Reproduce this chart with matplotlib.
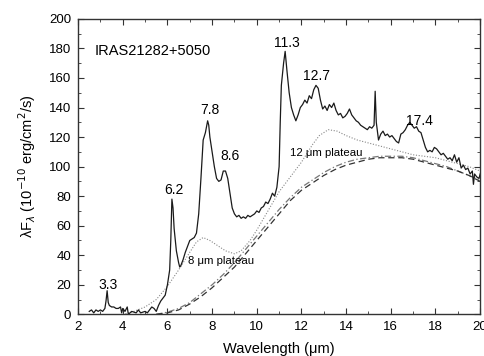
import matplotlib
matplotlib.use("Agg")
import matplotlib.pyplot as plt
from matplotlib.ticker import MultipleLocator

plt.rcParams['font.family'] = ['Liberation Sans', 'DejaVu Sans']

wave = [2.5, 2.6, 2.7, 2.8, 2.9, 3.0, 3.1, 3.2, 3.25, 3.3, 3.35, 3.4, 3.5, 3.6, 3.7,
        3.8, 3.9, 3.95, 4.0, 4.1, 4.2, 4.25, 4.4, 4.6, 4.7, 4.8, 5.0, 5.1, 5.2, 5.3,
        5.4, 5.5, 5.6, 5.7, 5.8, 5.9, 6.0, 6.1, 6.15, 6.2, 6.25, 6.3, 6.4, 6.5, 6.55,
        6.6, 6.7, 6.8, 6.9, 7.0, 7.1, 7.2, 7.3, 7.4, 7.5, 7.6, 7.7, 7.8, 7.85, 7.9,
        8.0, 8.1, 8.2, 8.3, 8.4, 8.5, 8.6, 8.7, 8.8, 8.9, 9.0, 9.1, 9.2, 9.3, 9.4,
        9.5, 9.6, 9.7, 9.8, 9.9, 10.0, 10.1, 10.2, 10.3, 10.4, 10.5, 10.6, 10.7, 10.8,
        10.9, 11.0, 11.05, 11.1, 11.2, 11.27, 11.35, 11.45, 11.55, 11.65, 11.75, 11.85,
        11.95, 12.05, 12.15, 12.25, 12.35, 12.45, 12.55, 12.65, 12.75, 12.85, 12.95,
        13.05, 13.15, 13.25, 13.35, 13.45, 13.55, 13.65, 13.75, 13.85, 13.95, 14.05,
        14.15, 14.25, 14.35, 14.45, 14.55, 14.65, 14.75, 14.85, 14.95, 15.05, 15.15,
        15.25, 15.3, 15.35, 15.45, 15.55, 15.65, 15.75, 15.85, 15.95, 16.05, 16.15,
        16.25, 16.35, 16.45, 16.55, 16.65, 16.75, 16.85, 16.95, 17.05, 17.15, 17.25,
        17.35, 17.45, 17.55, 17.65, 17.75, 17.85, 17.95, 18.05, 18.15, 18.25, 18.35,
        18.45, 18.55, 18.65, 18.75, 18.85, 18.95, 19.05, 19.15, 19.25, 19.35, 19.45,
        19.55, 19.65, 19.7, 19.75, 19.85, 19.95, 20.0]
flux = [2, 3, 1, 3, 2, 3, 2, 4, 9, 16, 8, 6, 5, 5, 4,
        4, 5, 1, 4, 2, 5, 0, 2, 1, 3, 1, 2, 1, 3, 5,
        4, 2, 6, 9, 11, 13, 20, 30, 50, 78, 72, 58, 43, 35, 32,
        33, 37, 42, 46, 50, 51, 52, 55, 68, 92, 118, 123, 131, 128, 120,
        110, 100, 92, 90, 91, 97, 97, 92, 82, 72, 68, 66, 67, 65, 66,
        65, 67, 66, 67, 68, 70, 69, 72, 73, 76, 75, 78, 82, 80,
        86, 100, 130, 155, 170, 178, 165, 150, 140, 135, 131, 135,
        140, 142, 145, 143, 148, 146, 152, 155, 153, 145, 139,
        141, 138, 142, 140, 143, 138, 135, 136, 133, 134, 136,
        139, 135, 133, 131, 130, 128, 127, 126, 125, 127, 126,
        128, 151, 130, 118, 122, 124, 121, 122, 120, 121, 119,
        117, 116, 122, 123, 125, 128, 130, 128, 126, 127, 124,
        123, 118, 113, 110, 111, 110, 113, 112, 110, 108, 109,
        107, 105, 106, 104, 108, 103, 106, 99, 101, 98, 99,
        95, 97, 88, 95, 93, 92, 95]

# continuum models
cont_wave = [5.5, 6.0, 6.5, 7.0, 7.5, 8.0, 8.5, 9.0, 9.5, 10.0, 10.5, 11.0, 11.5, 12.0,
             12.5, 13.0, 13.5, 14.0, 14.5, 15.0, 15.5, 16.0, 16.5, 17.0, 17.5, 18.0,
             18.5, 19.0, 19.5, 20.0]
cont_a = [0, 1, 3, 7, 12, 18, 25, 32, 41, 50, 59, 68, 77, 84,
          89, 94, 98, 101, 103, 105, 106, 106, 106, 105, 103, 101,
          99, 97, 94, 90]
cont_b = [0, 1.5, 4, 8, 14, 20, 27, 35, 44, 53, 62, 71, 79, 86,
          91, 96, 100, 103, 105, 106, 107, 107, 107, 106, 104, 102,
          100, 97, 94, 91]

# continuum + plateaus
plat_wave = [4.0, 4.5, 5.0, 5.5, 6.0, 6.5, 7.0, 7.3, 7.6, 7.9, 8.2, 8.6, 9.0, 9.3,
             9.7, 10.0, 10.5, 11.0, 11.5, 12.0, 12.5, 12.8, 13.2, 13.6, 14.0, 14.5,
             15.0, 15.5, 16.0, 16.5, 17.0, 17.5, 18.0, 18.5, 19.0, 19.5, 20.0]
plat_flux = [0, 2, 5, 10, 19, 30, 42, 49, 52, 50, 47, 43, 41, 43,
             50, 57, 70, 83, 93, 103, 115, 121, 125, 124, 121, 118,
             116, 114, 112, 110, 108, 107, 106, 104, 102, 100, 97]

features = ['3.3', '6.2', '7.8', '8.6', '11.3', '12.7', '17.4']
feat_x = [3.34, 6.27, 7.91, 8.8, 11.34, 12.69, 17.3]
feat_y = [20, 84, 138, 107, 184, 161.5, 131]

fig = plt.figure(figsize=(4.85, 3.56), dpi=100)
ax = fig.add_axes([0.161, 0.117, 0.829, 0.830])

ax.plot(plat_wave, plat_flux, color='#888888', lw=0.8, ls=(0, (1, 1.5)))
ax.plot(cont_wave, cont_b, color='#777777', lw=0.9, ls=(0, (5, 2, 1, 2)))
ax.plot(cont_wave, cont_a, color='#333333', lw=0.9, ls=(0, (5, 3)))
ax.plot(wave, flux, color='#1a1a1a', lw=0.9)

for lab, x, y in zip(features, feat_x, feat_y):
    ax.text(x, y, lab, ha='center', va='center', fontsize=10)

ax.text(2.76, 178, 'IRAS21282+5050', ha='left', va='center', fontsize=10.5)
ax.text(11.5, 109, '12 \u03bcm plateau', ha='left', va='center', fontsize=8.2)
ax.text(6.94, 36, '8 \u03bcm plateau', ha='left', va='center', fontsize=8.2)

ax.set_xlim(2, 20)
ax.set_ylim(0, 200)
ax.xaxis.set_major_locator(MultipleLocator(2))
ax.xaxis.set_minor_locator(MultipleLocator(1))
ax.yaxis.set_major_locator(MultipleLocator(20))
ax.yaxis.set_minor_locator(MultipleLocator(10))
ax.tick_params(which='both', direction='in', top=True, right=True, labelsize=9.5, color='#333333')
ax.tick_params(which='major', length=4, pad=5)
ax.tick_params(which='minor', length=2)
for s in ax.spines.values():
    s.set_linewidth(1.0)
    s.set_color('#333333')

ax.set_xlabel('Wavelength (\u03bcm)', fontsize=10.5, labelpad=6)
ax.set_ylabel('\u03bbF$_\u03bb$ (10$^{-10}$ erg/cm$^2$/s)', fontsize=10.5, labelpad=8)

fig.savefig('out.png', dpi=100)
